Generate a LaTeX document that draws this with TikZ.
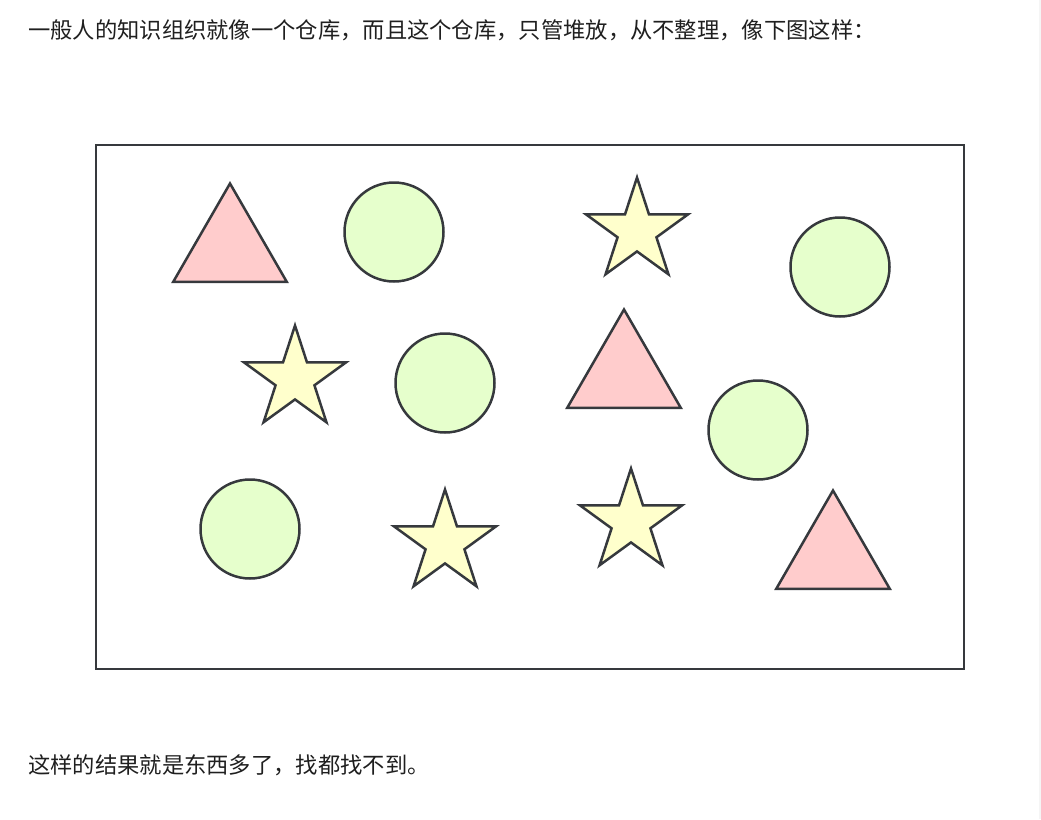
\documentclass[tikz,border=0pt]{standalone}
\usepackage{fontspec}
\setmainfont{Noto Sans CJK SC}
\usepackage{xcolor}
\usetikzlibrary{shapes.geometric}
\definecolor{edgegray}{HTML}{36393D}
\definecolor{pinkfill}{HTML}{FFCCCC}
\definecolor{greenfill}{HTML}{E6FFCC}
\definecolor{yellowfill}{HTML}{FFFFCC}
\definecolor{textgray}{HTML}{1F1F1F}

\begin{document}
\begin{tikzpicture}[x=1pt, y=-1pt,
    shapebase/.style={draw=edgegray, line width=2.5pt, inner sep=0pt, outer sep=0pt},
    tri/.style={shapebase, regular polygon, regular polygon sides=3, minimum size=131pt, fill=pinkfill},
    ball/.style={shapebase, circle, minimum size=99pt, fill=greenfill},
    starry/.style={shapebase, star, star points=5, star point ratio=2.618, minimum size=107pt, fill=yellowfill},
    textline/.style={anchor=west, inner sep=0pt, text=textgray, font=\fontsize{22.3}{26}\selectfont}]
            \useasboundingbox (0,0) rectangle (1041,819);
            \fill[gray!8] (1039,0) rectangle (1041,819);

            \node [textline] (intro) at (28,30) {一般人的知识组织就像一个仓库，而且这个仓库，只管堆放，从不整理，像下图这样：};

            \draw[edgegray, line width=2.8pt] (96,145) rectangle (964,669);

            \node [tri] (tri1) at (230,249) {};
            \node [ball] (ball1) at (394,232) {};
            \node [starry] (star1) at (637,231) {};
            \node [ball] (ball2) at (840,267) {};

            \node [starry] (star2) at (295,379) {};
            \node [ball] (ball3) at (445,383) {};
            \node [tri] (tri2) at (624,375) {};
            \node [ball] (ball4) at (758,430) {};

            \node [ball] (ball5) at (250,529) {};
            \node [starry] (star3) at (445,543) {};
            \node [starry] (star4) at (631,522) {};
            \node [tri] (tri3) at (833,556) {};

            \node [textline] (outro) at (28,765) {这样的结果就是东西多了，找都找不到。};
        \end{tikzpicture}
\end{document}
